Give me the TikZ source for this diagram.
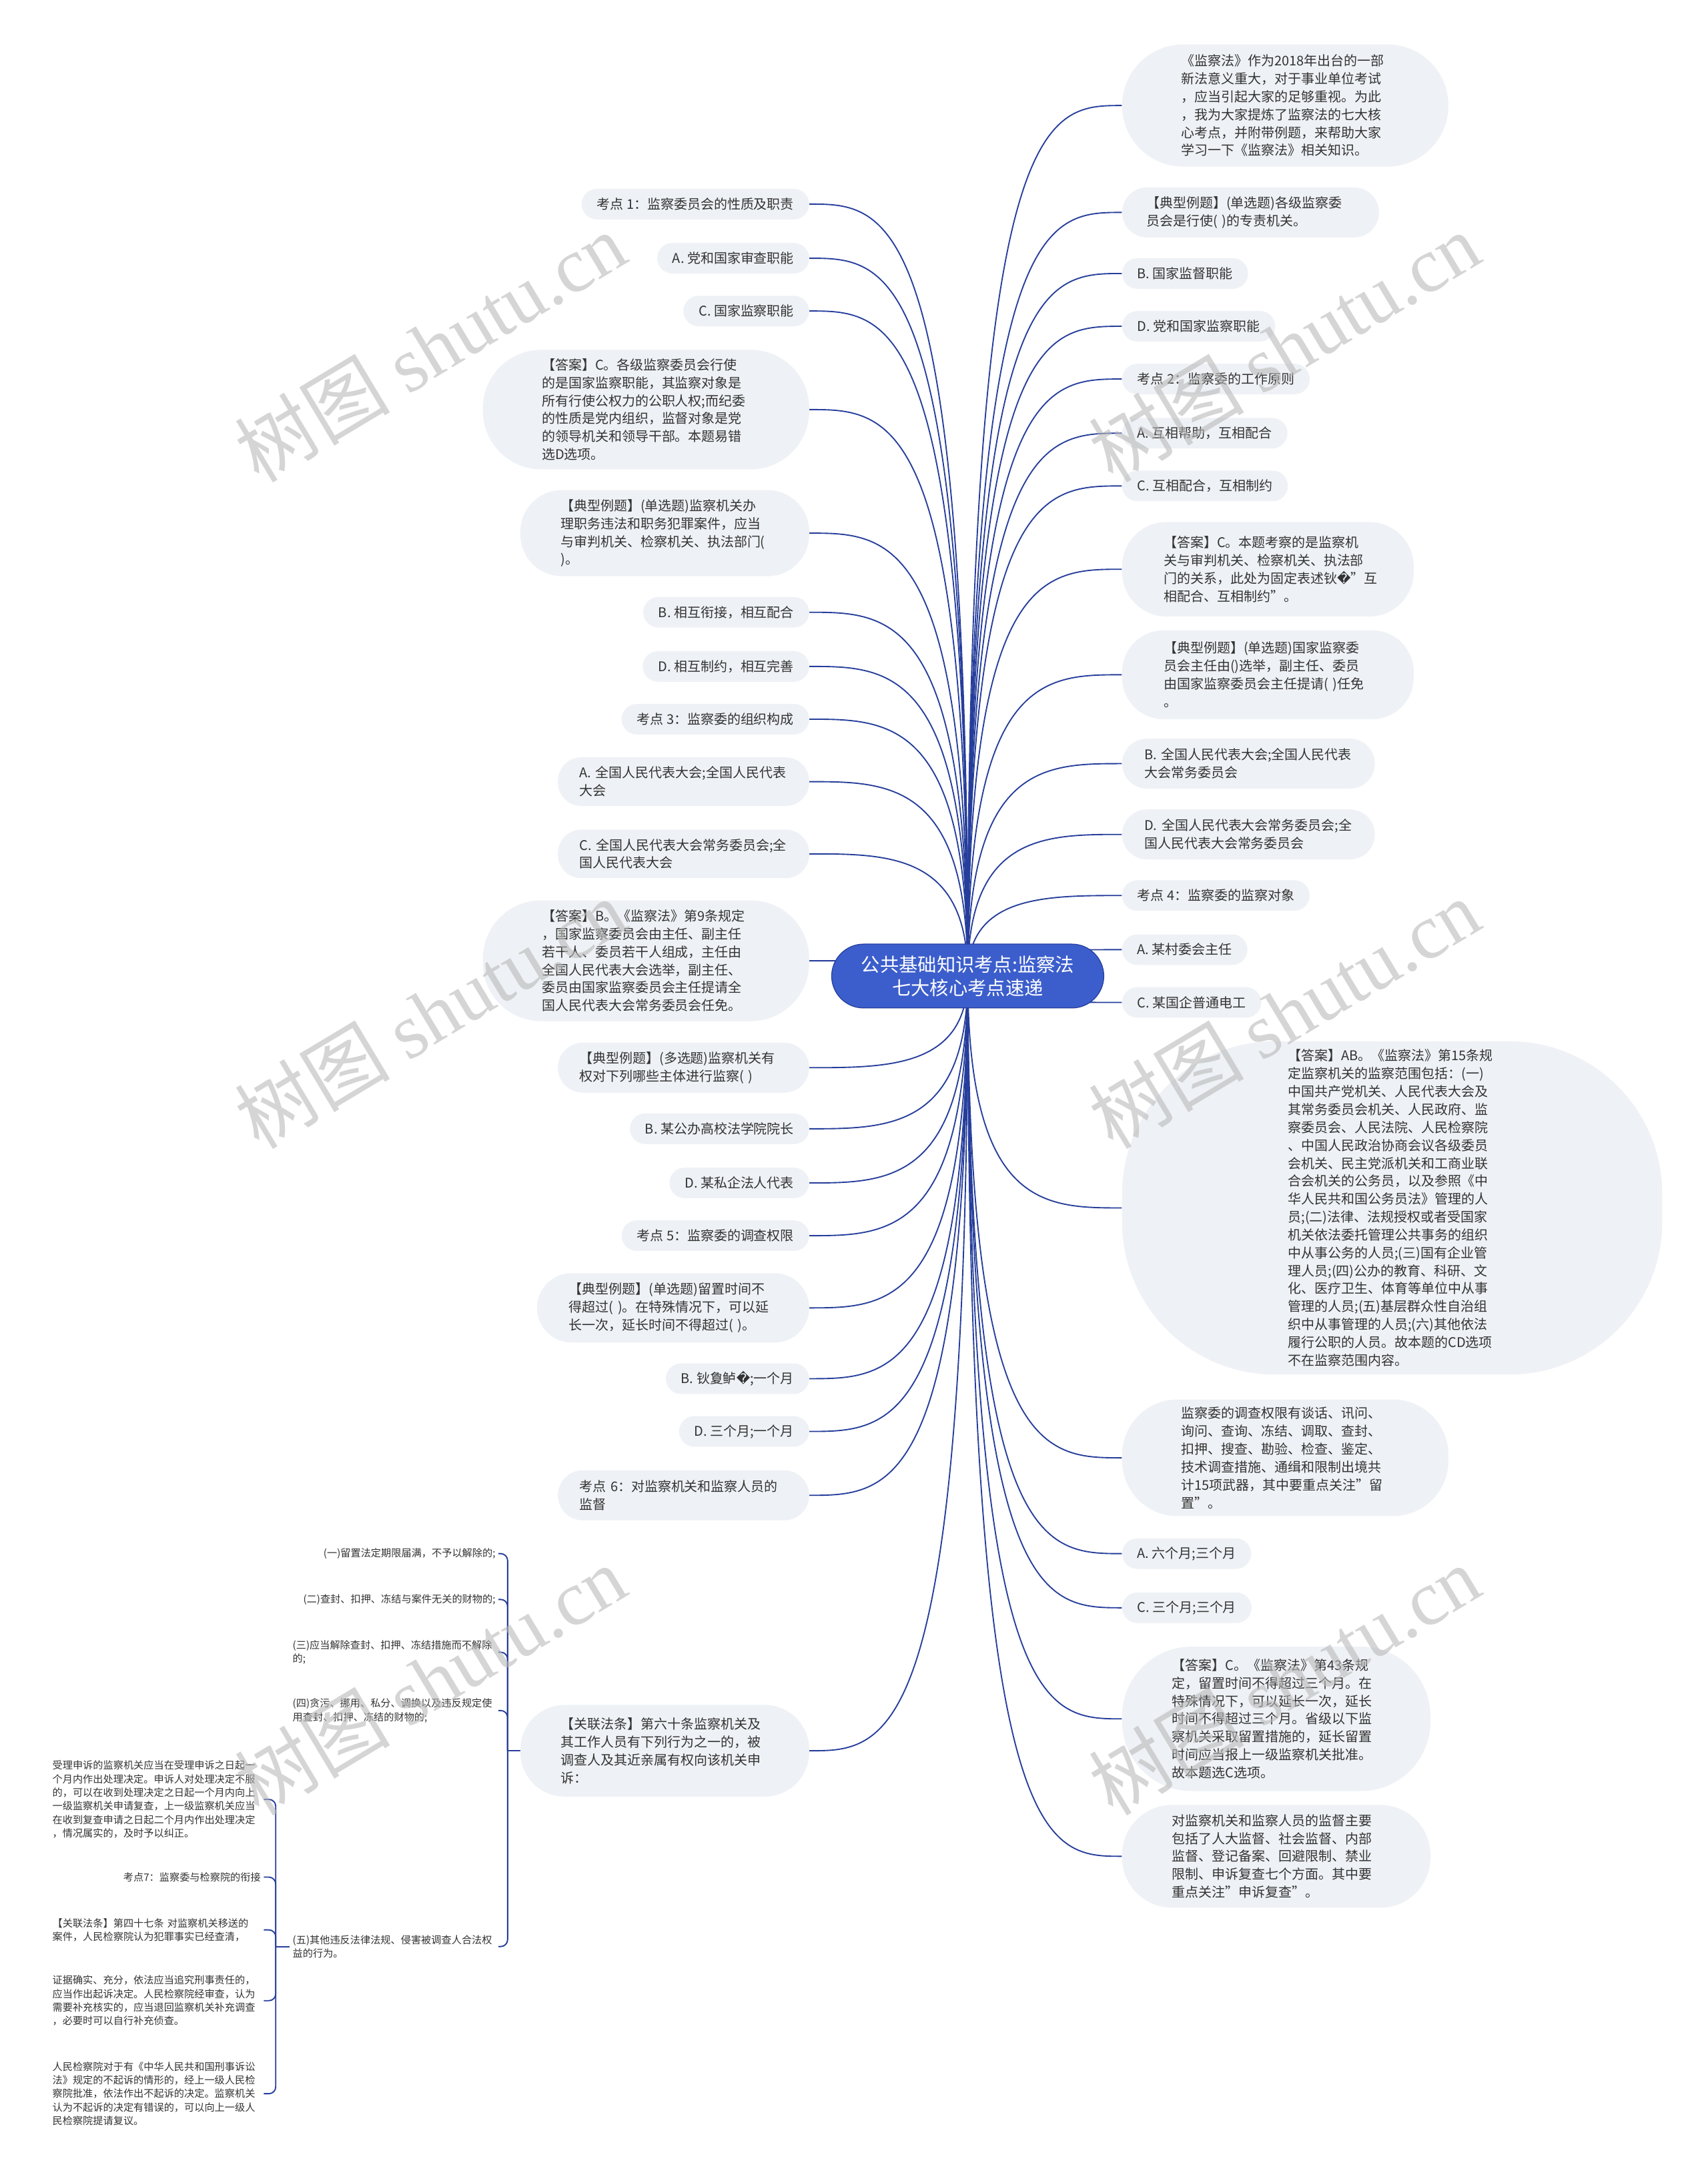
\documentclass[tikz,border=0pt]{standalone}
\usepackage{fontspec}
\setmainfont{Noto Sans CJK SC}
\newfontfamily\djv{DejaVu Sans}
\newfontfamily\wmserif{Liberation Serif}
\usetikzlibrary{calc,backgrounds}
\definecolor{pillc}{RGB}{238,241,245}
\definecolor{linec}{RGB}{38,62,155}
\definecolor{centerc}{RGB}{60,94,204}
\definecolor{txtc}{RGB}{51,51,51}
\definecolor{wmc}{RGB}{185,185,185}
\newcommand\rconn[1]{\draw[conn] (root.center) .. controls (root.center |- #1.west) and ($(root.center |- #1.west)!0.5!(#1.west)$) .. (#1.west);}
\newcommand\lconn[1]{\draw[conn] (root.center) .. controls (root.center |- #1.east) and ($(root.center |- #1.east)!0.5!(#1.east)$) .. (#1.east);}
\newcommand\fffd{{\djv �}}
\tikzset{
  every node/.style={text=txtc},
  conn/.style={draw=linec, line width=0.9pt},
  ften/.style={font=\fontsize{9.6}{12.9}\selectfont},
  fsmall/.style={font=\fontsize{7.3}{9.8}\selectfont},
  pill/.style={ften, fill=pillc, inner xsep=11pt, inner ysep=0pt, minimum height=22pt, rounded corners=11pt, align=left},
  rbox/.style={pill, anchor=west},
  lbox/.style={pill, anchor=east},
  multi/.style n args={3}{minimum width=#1pt, minimum height=#2pt, rounded corners=#3pt, text width=150pt, inner xsep=0pt},
  leaf/.style={fsmall, inner sep=2pt, anchor=east, align=left},
  rootbox/.style={fill=centerc, draw=linec, line width=0.6pt, text=white, font=\fontsize{13.6}{17}\selectfont, align=center, minimum width=196pt, minimum height=46pt, rounded corners=23pt, inner sep=0pt},
  wm/.style={text=wmc, text opacity=0.6, font=\fontsize{56}{60}\selectfont, rotate=31, inner sep=0pt}
}
\begin{document}
\begin{tikzpicture}[x=1pt,y=-1pt]
\useasboundingbox (0,0) rectangle (1230,1568);

\node[rootbox] (root) at (697,703) {公共基础知识考点:监察法\\七大核心考点速递};

% right side
\node[rbox, multi={235}{88}{44}] (R1) at (808,76) {《监察法》作为2018年出台的一部\\新法意义重大，对于事业单位考试\\，应当引起大家的足够重视。为此\\，我为大家提炼了监察法的七大核\\心考点，并附带例题，来帮助大家\\学习一下《监察法》相关知识。};
\node[rbox, multi={185}{36}{18}] (R2) at (808,153) {【典型例题】(单选题)各级监察委\\员会是行使( )的专责机关。};
\node[rbox] (R3) at (808,197) {B. 国家监督职能};
\node[rbox] (R4) at (808,235) {D. 党和国家监察职能};
\node[rbox] (R5) at (808,273) {考点 2：监察委的工作原则};
\node[rbox] (R6) at (808,312) {A. 互相帮助，互相配合};
\node[rbox] (R7) at (808,350) {C. 互相配合，互相制约};
\node[rbox, multi={210}{68}{32}] (R8) at (808,410) {【答案】C。本题考察的是监察机\\关与审判机关、检察机关、执法部\\门的关系，此处为固定表述钬\fffd"互\\相配合、互相制约"。};
\node[rbox, multi={210}{64}{30}] (R9) at (808,486) {【典型例题】(单选题)国家监察委\\员会主任由()选举，副主任、委员\\由国家监察委员会主任提请( )任免\\。};
\node[rbox, multi={182}{36}{18}] (R10) at (808,550) {B. 全国人民代表大会;全国人民代表\\大会常务委员会};
\node[rbox, multi={182}{36}{18}] (R11) at (808,601) {D. 全国人民代表大会常务委员会;全\\国人民代表大会常务委员会};
\node[rbox] (R12) at (808,645) {考点 4：监察委的监察对象};
\node[rbox] (R13) at (808,684) {A. 某村委会主任};
\node[rbox] (R14) at (808,722) {C. 某国企普通电工};
\node[rbox, multi={389}{240}{110}] (R15) at (808,870) {【答案】AB。《监察法》第15条规\\定监察机关的监察范围包括：(一)\\中国共产党机关、人民代表大会及\\其常务委员会机关、人民政府、监\\察委员会、人民法院、人民检察院\\、中国人民政治协商会议各级委员\\会机关、民主党派机关和工商业联\\合会机关的公务员，以及参照《中\\华人民共和国公务员法》管理的人\\员;(二)法律、法规授权或者受国家\\机关依法委托管理公共事务的组织\\中从事公务的人员;(三)国有企业管\\理人员;(四)公办的教育、科研、文\\化、医疗卫生、体育等单位中从事\\管理的人员;(五)基层群众性自治组\\织中从事管理的人员;(六)其他依法\\履行公职的人员。故本题的CD选项\\不在监察范围内容。};
\node[rbox, multi={235}{84}{40}] (R16) at (808,1050) {监察委的调查权限有谈话、讯问、\\询问、查询、冻结、调取、查封、\\扣押、搜查、勘验、检查、鉴定、\\技术调查措施、通缉和限制出境共\\计15项武器，其中要重点关注"留\\置"。};
\node[rbox] (R17) at (808,1119) {A. 六个月;三个月};
\node[rbox] (R18) at (808,1158) {C. 三个月;三个月};
\node[rbox, multi={222}{104}{50}] (R19) at (808,1238) {【答案】C。《监察法》第43条规\\定，留置时间不得超过三个月。在\\特殊情况下，可以延长一次，延长\\时间不得超过三个月。省级以下监\\察机关采取留置措施的，延长留置\\时间应当报上一级监察机关批准。\\故本题选C选项。};
\node[rbox, multi={222}{74}{36}] (R20) at (808,1337) {对监察机关和监察人员的监督主要\\包括了人大监督、社会监督、内部\\监督、登记备案、回避限制、禁业\\限制、申诉复查七个方面。其中要\\重点关注"申诉复查"。};

% left side
\node[lbox] (L1) at (583,147) {考点 1：监察委员会的性质及职责};
\node[lbox] (L2) at (583,186) {A. 党和国家审查职能};
\node[lbox] (L3) at (583,224) {C. 国家监察职能};
\node[lbox, multi={235}{86}{42}] (L4) at (583,295) {【答案】C。各级监察委员会行使\\的是国家监察职能，其监察对象是\\所有行使公权力的公职人权;而纪委\\的性质是党内组织，监督对象是党\\的领导机关和领导干部。本题易错\\选D选项。};
\node[lbox, multi={208}{62}{30}] (L5) at (583,384) {【典型例题】(单选题)监察机关办\\理职务违法和职务犯罪案件，应当\\与审判机关、检察机关、执法部门(\\)。};
\node[lbox] (L6) at (583,441) {B. 相互衔接，相互配合};
\node[lbox] (L7) at (583,480) {D. 相互制约，相互完善};
\node[lbox] (L8) at (583,518) {考点 3：监察委的组织构成};
\node[lbox, multi={181}{35}{17}] (L9) at (583,563) {A. 全国人民代表大会;全国人民代表\\大会};
\node[lbox, multi={181}{35}{17}] (L10) at (583,615) {C. 全国人民代表大会常务委员会;全\\国人民代表大会};
\node[lbox, multi={235}{87}{42}] (L11) at (583,692) {【答案】B。《监察法》第9条规定\\，国家监察委员会由主任、副主任\\若干人、委员若干人组成，主任由\\全国人民代表大会选举，副主任、\\委员由国家监察委员会主任提请全\\国人民代表大会常务委员会任免。};
\node[lbox, multi={181}{36}{18}] (L12) at (583,769) {【典型例题】(多选题)监察机关有\\权对下列哪些主体进行监察( )};
\node[lbox] (L13) at (583,813) {B. 某公办高校法学院院长};
\node[lbox] (L14) at (583,852) {D. 某私企法人代表};
\node[lbox] (L15) at (583,890) {考点 5：监察委的调查权限};
\node[lbox, multi={196}{50}{25}] (L16) at (583,942) {【典型例题】(单选题)留置时间不\\得超过( )。在特殊情况下，可以延\\长一次，延长时间不得超过( )。};
\node[lbox] (L17) at (583,993) {B. 钬夐鲈\fffd;一个月};
\node[lbox] (L18) at (583,1031) {D. 三个月;一个月};
\node[lbox, multi={181}{36}{18}] (L19) at (583,1077) {考点 6：对监察机关和监察人员的\\监督};
\node[lbox, multi={208}{66}{32}] (L20) at (583,1261) {【关联法条】第六十条监察机关及\\其工作人员有下列行为之一的，被\\调查人及其近亲属有权向该机关申\\诉：};

% children of L20
\node[leaf] (k1) at (359,1119) {(一)留置法定期限届满，不予以解除的;};
\node[leaf] (k2) at (359,1152) {(二)查封、扣押、冻结与案件无关的财物的;};
\node[leaf, text width=146pt] (k3) at (359,1190) {(三)应当解除查封、扣押、冻结措施而不解除\\的;};
\node[leaf, text width=146pt] (k4) at (359,1232) {(四)贪污、挪用、私分、调换以及违反规定使\\用查封、扣押、冻结的财物的;};
\node[leaf, text width=146pt] (k5) at (359,1402) {(五)其他违反法律法规、侵害被调查人合法权\\益的行为。};

% children of k5
\node[leaf, text width=150pt] (d1) at (190,1296) {受理申诉的监察机关应当在受理申诉之日起一\\个月内作出处理决定。申诉人对处理决定不服\\的，可以在收到处理决定之日起一个月内向上\\一级监察机关申请复查，上一级监察机关应当\\在收到复查申请之日起二个月内作出处理决定\\，情况属实的，及时予以纠正。};
\node[leaf] (d2) at (190,1352) {考点7：监察委与检察院的衔接};
\node[leaf, text width=150pt] (d3) at (190,1390) {【关联法条】第四十七条 对监察机关移送的\\案件，人民检察院认为犯罪事实已经查清，};
\node[leaf, text width=150pt] (d4) at (190,1441) {证据确实、充分，依法应当追究刑事责任的，\\应当作出起诉决定。人民检察院经审查，认为\\需要补充核实的，应当退回监察机关补充调查\\，必要时可以自行补充侦查。};
\node[leaf, text width=150pt] (d5) at (190,1508) {人民检察院对于有《中华人民共和国刑事诉讼\\法》规定的不起诉的情形的，经上一级人民检\\察院批准，依法作出不起诉的决定。监察机关\\认为不起诉的决定有错误的，可以向上一级人\\民检察院提请复议。};

\begin{scope}[on background layer]
  \fill[white] (0,0) rectangle (1230,1568);
  \foreach \i in {1,...,20} {\rconn{R\i}}
  \foreach \i in {1,...,20} {\lconn{L\i}}
  \draw[conn] (L20.west) -- ++(-9,0) coordinate (j1);
  \foreach \i in {1,...,5} {\draw[conn, rounded corners=5pt] (j1) |- (k\i.east);}
  \draw[conn] (k5.west) -- ++(-10,0) coordinate (j2);
  \foreach \i in {1,...,5} {\draw[conn, rounded corners=5pt] (j2) |- (d\i.east);}
\end{scope}

% watermarks
\node[wm] (w1) at (310,250) {树图 {\wmserif shutu.cn}};
\node[wm] (w2) at (925,250) {树图 {\wmserif shutu.cn}};
\node[wm] (w3) at (310,730) {树图 {\wmserif shutu.cn}};
\node[wm] (w4) at (925,730) {树图 {\wmserif shutu.cn}};
\node[wm] (w5) at (310,1210) {树图 {\wmserif shutu.cn}};
\node[wm] (w6) at (925,1210) {树图 {\wmserif shutu.cn}};
\end{tikzpicture}
\end{document}
